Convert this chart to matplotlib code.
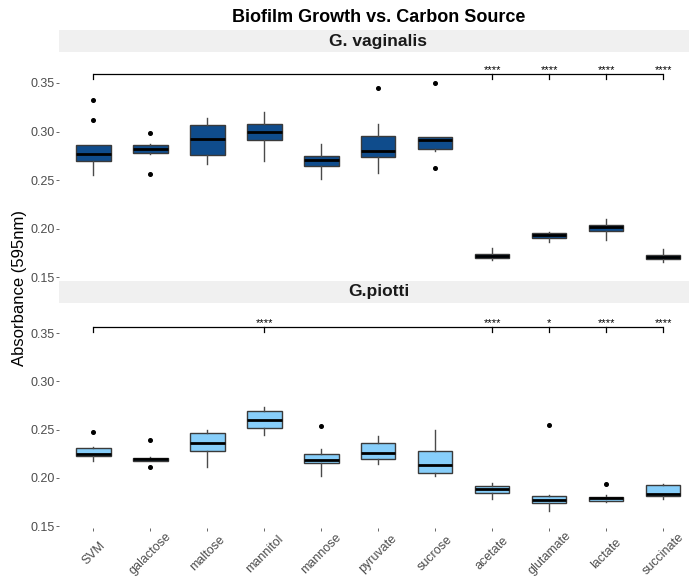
import matplotlib
matplotlib.use("Agg")
import matplotlib.pyplot as plt

plt.rcParams['font.family'] = ['Liberation Sans', 'DejaVu Sans']

categories = ["SVM", "galactose", "maltose", "mannitol", "mannose", "pyruvate",
              "sucrose", "acetate", "glutamate", "lactate", "succinate"]

# G. vaginalis
gv_whislo = [0.2554, 0.2767, 0.2664, 0.2702, 0.2508, 0.2578, 0.2795, 0.1676, 0.1866, 0.1887, 0.1658]
gv_q1     = [0.2702, 0.2778, 0.2761, 0.2909, 0.2647, 0.2737, 0.2819, 0.1700, 0.1907, 0.1974, 0.1683]
gv_med    = [0.2771, 0.2823, 0.2920, 0.2992, 0.2712, 0.2803, 0.2909, 0.1721, 0.1932, 0.2018, 0.1707]
gv_q3     = [0.2858, 0.2858, 0.3065, 0.3075, 0.2751, 0.2954, 0.2940, 0.1742, 0.1956, 0.2042, 0.1731]
gv_whishi = [0.2865, 0.2868, 0.3140, 0.3203, 0.2875, 0.3082, 0.2944, 0.1797, 0.1970, 0.2098, 0.1793]
gv_fliers = [[0.3324, 0.3117], [0.2982, 0.2564], [], [], [], [0.3445], [0.3503, 0.2622], [], [], [], []]

# G. piotti
gp_whislo = [0.2179, 0.2176, 0.2113, 0.2443, 0.2021, 0.2147, 0.2021, 0.1784, 0.1660, 0.1753, 0.1787]
gp_q1     = [0.2224, 0.2179, 0.2278, 0.2523, 0.2155, 0.2199, 0.2055, 0.1842, 0.1739, 0.1766, 0.1818]
gp_med    = [0.2247, 0.2193, 0.2361, 0.2598, 0.2182, 0.2258, 0.2137, 0.1887, 0.1773, 0.1790, 0.1838]
gp_q3     = [0.2306, 0.2206, 0.2464, 0.2691, 0.2251, 0.2361, 0.2278, 0.1918, 0.1818, 0.1807, 0.1925]
gp_whishi = [0.2317, 0.2213, 0.2502, 0.2739, 0.2302, 0.2433, 0.2502, 0.1945, 0.1820, 0.1825, 0.1941]
gp_fliers = [[0.2477], [0.2389, 0.2110], [], [], [0.2539], [], [], [], [0.2546], [0.1935], []]

# significance vs SVM
gv_sig_groups = ["acetate", "glutamate", "lactate", "succinate"]
gv_sig_labels = ["****", "****", "****", "****"]
gp_sig_groups = ["mannitol", "acetate", "glutamate", "lactate", "succinate"]
gp_sig_labels = ["****", "****", "*", "****", "****"]

panels = [
    dict(title="G. vaginalis", color="#0F4C8C",
         stats=(gv_whislo, gv_q1, gv_med, gv_q3, gv_whishi, gv_fliers),
         sig=(gv_sig_groups, gv_sig_labels), line_y=0.3590, tick_y=0.3538),
    dict(title="G.piotti", color="#87CEFA",
         stats=(gp_whislo, gp_q1, gp_med, gp_q3, gp_whishi, gp_fliers),
         sig=(gp_sig_groups, gp_sig_labels), line_y=0.3568, tick_y=0.3513),
]

W, H = 689, 576
fig = plt.figure(figsize=(W / 100, H / 100), dpi=100)

left_px, right_px = 59.3, 697.5
panel_px = [(52.3, 279.0), (302.7, 528.0)]
strip_px = [(30.0, 52.3), (280.7, 302.7)]
ylim = (0.1482, 0.3816)
positions = list(range(1, len(categories) + 1))

def frac_rect(x0, x1, top, bottom):
    return [x0 / W, 1 - bottom / H, (x1 - x0) / W, (bottom - top) / H]

axes = []
for i, p in enumerate(panels):
    ax = fig.add_axes(frac_rect(left_px, right_px, *panel_px[i]))
    axes.append(ax)
    wl, q1, md, q3, wh, fl = p["stats"]
    bstats = []
    for j, c in enumerate(categories):
        bstats.append(dict(label=c, whislo=wl[j], q1=q1[j], med=md[j], q3=q3[j],
                           whishi=wh[j], fliers=fl[j]))
    ax.bxp(bstats, positions=positions, widths=0.6, patch_artist=True,
           showcaps=False,
           boxprops=dict(facecolor=p["color"], edgecolor="#3a3a3a", linewidth=1.0),
           medianprops=dict(color="black", linewidth=2.0),
           whiskerprops=dict(color="#4a4a4a", linewidth=1.0),
           flierprops=dict(marker="o", markerfacecolor="black", markeredgecolor="black",
                           markersize=2.6, linestyle="none"))
    ax.set_xlim(0.4, len(categories) + 0.6)
    ax.set_ylim(*ylim)
    ax.set_yticks([0.15, 0.20, 0.25, 0.30, 0.35])
    ax.set_yticklabels(["0.15", "0.20", "0.25", "0.30", "0.35"])
    for s in ax.spines.values():
        s.set_visible(False)
    ax.tick_params(axis="y", length=2, width=0.6, color="#4D4D4D", labelcolor="#4D4D4D",
                   labelsize=9, pad=1.5)
    ax.set_facecolor("white")

    # significance bracket
    groups, labels = p["sig"]
    ly, ty = p["line_y"], p["tick_y"]
    ax.plot([1, len(categories)], [ly, ly], color="black", lw=0.9, solid_capstyle="butt")
    ax.plot([1, 1], [ly, ty], color="black", lw=0.9)
    for g, lab in zip(groups, labels):
        xg = categories.index(g) + 1
        ax.plot([xg, xg], [ly, ty], color="black", lw=0.9)
        ax.text(xg, ly + 0.0008, lab, ha="center", va="baseline", fontsize=8, color="black")

    # strip
    sx = fig.add_axes(frac_rect(left_px, right_px, *strip_px[i]))
    sx.set_facecolor("#F0F0F0")
    sx.set_xticks([]); sx.set_yticks([])
    for s in sx.spines.values():
        s.set_visible(False)
    sx.text(0.5, 0.5, p["title"], transform=sx.transAxes, ha="center", va="center",
            fontsize=12.5, fontweight="bold", color="#1A1A1A")

axes[0].set_xticks(positions)
axes[0].tick_params(axis="x", length=0, labelbottom=False)
axes[1].set_xticks(positions)
axes[1].set_xticklabels(categories, rotation=45, ha="center", va="center",
                        rotation_mode="anchor")
axes[1].tick_params(axis="x", length=2, width=0.6, color="#4D4D4D", labelcolor="#4D4D4D",
                    labelsize=9, pad=16.5)

fig.text(((left_px + right_px) / 2) / W, 1 - 17.3 / H, "Biofilm Growth vs. Carbon Source",
         ha="center", va="center", fontsize=13, fontweight="bold", color="black")
fig.text(20 / W, 1 - 288 / H, "Absorbance (595nm)", rotation=90, ha="center", va="center",
         fontsize=12, color="black")

fig.savefig("out.png", dpi=100)
